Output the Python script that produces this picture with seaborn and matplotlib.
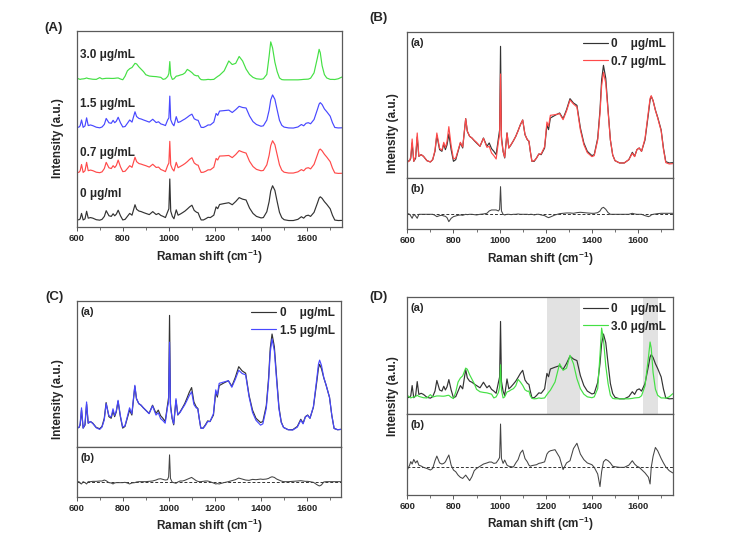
import numpy as np
import pandas as pd
import matplotlib
matplotlib.use("Agg")
import matplotlib.pyplot as plt
import seaborn as sns

# ---------------- data ----------------
wavenumber = [
    600, 610, 615, 621, 628, 636, 643, 650, 660, 670,
    685, 700, 710, 720, 728, 740, 750, 758, 765, 772,
    780, 790, 800, 810, 820, 830, 840, 853, 860, 870,
    880, 890, 900, 915, 930, 945, 955, 965, 975, 985,
    995, 1000, 1004, 1008, 1015, 1022, 1032, 1040, 1050, 1060,
    1070, 1080, 1090, 1100, 1110, 1120, 1127, 1133, 1140, 1150,
    1160, 1170, 1180, 1195, 1205, 1212, 1220, 1240, 1260, 1275,
    1290, 1305, 1320, 1335, 1350, 1365, 1380, 1400, 1410, 1425,
    1435, 1442, 1450, 1460, 1470, 1480, 1490, 1500, 1520, 1540,
    1560, 1575, 1585, 1595, 1605, 1615, 1630, 1645, 1652, 1657,
    1665, 1675, 1685, 1700, 1710, 1720, 1735, 1750]

# control spectrum, 0 ug/mL
spec_0 = [
    0.06, 0.08, 0.15, 0.61, 0.06, 0.15, 0.79, 0.21, 0.26, 0.21,
    0.08, 0.04, 0.11, 0.36, 0.84, 0.41, 0.36, 0.58, 0.41, 0.55,
    0.88, 0.41, 0.06, 0.11, 0.36, 0.61, 0.46, 1.34, 0.96, 0.81,
    0.76, 0.68, 0.61, 0.51, 0.76, 0.51, 0.61, 0.44, 0.36, 0.26,
    0.76, 1.00, 3.51, 0.80, 0.36, 0.16, 0.91, 0.46, 0.56, 0.68,
    0.81, 0.98, 1.16, 1.30, 0.86, 0.71, 0.66, 0.36, 0.06, 0.06,
    0.16, 0.28, 0.26, 0.46, 1.16, 1.01, 1.36, 1.44, 1.51, 1.34,
    1.61, 1.94, 1.81, 1.74, 1.06, 0.61, 0.36, 0.23, 0.26, 0.75,
    1.60, 2.50, 2.94, 2.55, 1.60, 0.70, 0.25, 0.08, 0.01, 0.01,
    0.11, 0.33, 0.21, 0.41, 0.46, 0.36, 0.70, 1.50, 1.90, 2.01,
    1.88, 1.60, 1.38, 1.00, 0.45, 0.05, 0.01, 0.02]

# difference spectra (control - treated) read from the (b) panels
diff_07 = [
    0.03, 0.00, -0.05, -0.12, 0.00, -0.05, -0.12, 0.00, 0.00, 0.00,
    0.00, 0.00, 0.00, -0.03, -0.07, -0.04, -0.03, -0.05, -0.06, -0.10,
    -0.22, -0.12, -0.07, -0.05, -0.03, -0.02, -0.03, 0.00, -0.01, 0.00,
    0.00, -0.01, -0.02, 0.00, 0.01, 0.03, 0.10, 0.13, 0.13, 0.13,
    0.10, 0.15, 0.83, 0.10, 0.00, -0.02, 0.00, 0.00, -0.01, 0.00,
    0.00, 0.01, 0.00, 0.00, 0.00, 0.00, -0.01, 0.00, 0.00, -0.02,
    0.00, 0.00, -0.02, -0.04, -0.08, -0.10, -0.08, -0.02, 0.02, 0.03,
    0.04, 0.04, 0.03, 0.05, 0.06, 0.05, 0.04, 0.03, 0.03, 0.05,
    0.10, 0.18, 0.21, 0.15, 0.05, 0.00, 0.00, 0.00, 0.00, 0.00,
    0.00, 0.03, 0.01, 0.00, 0.00, 0.00, -0.04, -0.07, -0.05, -0.02,
    0.00, 0.01, 0.02, 0.03, 0.03, 0.03, 0.03, 0.03]

diff_15 = [
    0.00, 0.00, -0.05, -0.07, 0.00, -0.03, -0.07, 0.00, 0.00, 0.01,
    0.01, 0.02, 0.02, 0.05, 0.03, -0.03, -0.04, -0.07, -0.04, -0.03,
    -0.03, -0.03, -0.03, -0.02, -0.04, -0.07, -0.04, -0.03, -0.01, 0.00,
    0.00, 0.00, 0.00, 0.01, 0.02, 0.05, 0.08, 0.09, 0.07, 0.05,
    0.06, 0.15, 0.82, 0.10, -0.01, -0.03, -0.05, -0.01, 0.02, 0.02,
    0.04, 0.07, 0.10, 0.13, 0.08, 0.03, 0.01, 0.00, 0.00, 0.01,
    0.02, 0.02, 0.00, -0.04, -0.07, -0.06, -0.07, -0.03, 0.00, 0.03,
    0.06, 0.11, 0.08, 0.05, 0.04, 0.07, 0.06, 0.08, 0.07, 0.08,
    0.10, 0.13, 0.15, 0.13, 0.08, 0.05, 0.02, 0.00, 0.00, 0.01,
    0.02, 0.03, 0.02, 0.01, 0.01, 0.00, -0.02, -0.09, -0.12, -0.13,
    -0.10, -0.01, 0.00, 0.00, 0.00, 0.00, 0.00, 0.00]

# 3.0 ug/mL spectrum
spec_30 = [
    0.17, 0.08, 0.05, 0.08, 0.09, 0.12, 0.17, 0.12, 0.09, 0.06,
    0.05, 0.20, 0.09, 0.12, 0.14, 0.14, 0.13, 0.13, 0.14, 0.16,
    0.17, 0.08, 0.02, 0.32, 0.77, 0.95, 1.05, 1.40, 1.35, 1.10,
    0.90, 0.70, 0.44, 0.33, 0.30, 0.28, 0.25, 0.22, 0.05, 0.10,
    0.30, 0.55, 1.55, 0.40, 0.05, 0.10, 0.32, 0.35, 0.42, 0.47,
    0.60, 0.89, 0.77, 0.62, 0.42, 0.35, 0.36, 0.15, 0.03, 0.01,
    0.02, 0.05, 0.03, 0.05, 0.20, 0.30, 0.40, 0.77, 1.60, 1.30,
    1.40, 1.98, 1.60, 0.92, 0.47, 0.22, 0.10, 0.06, 0.10, 0.47,
    2.00, 3.21, 2.70, 1.50, 0.70, 0.17, 0.03, 0.01, 0.01, 0.01,
    0.01, 0.03, 0.05, 0.06, 0.07, 0.15, 0.60, 1.90, 2.58, 2.30,
    1.20, 0.45, 0.17, 0.05, 0.05, 0.04, 0.10, 0.24]

diff_30 = [
    -0.12, 0.10, 0.26, 0.15, 0.36, 0.20, 0.30, 0.10, 0.06, 0.00,
    -0.05, -0.12, -0.05, 0.30, 0.51, 0.20, 0.15, 0.18, 0.25, 0.40,
    0.56, 0.10, -0.12, -0.20, -0.35, -0.45, -0.50, -0.35, -0.45, -0.60,
    -0.42, -0.15, -0.05, 0.05, 0.15, 0.20, 0.24, 0.24, 0.18, 0.20,
    0.35, 0.45, 1.96, 0.40, 0.18, 0.33, 0.10, 0.05, 0.03, 0.02,
    0.20, 0.35, 0.65, 0.78, 0.40, 0.25, 0.10, 0.05, 0.08, 0.10,
    0.12, 0.18, 0.20, 0.25, 0.60, 0.70, 0.75, 0.80, 0.45, -0.10,
    0.20, 0.30, 0.85, 1.09, 0.60, 0.35, 0.20, 0.12, 0.00, -0.30,
    -0.87, -0.20, 0.25, 0.36, 0.30, 0.20, 0.05, 0.03, 0.00, 0.00,
    0.10, 0.30, 0.15, 0.05, 0.00, -0.10, -0.25, -0.45, -0.75, 0.00,
    0.50, 0.90, 0.75, 0.40, 0.20, 0.02, -0.15, -0.25]

conc_labels = ["0 μg/ml", "0.7 μg/mL", "1.5 μg/mL", "3.0 μg/mL"]
legend_0 = "0    μg/mL"
stack_offsets = [0.0, 4.0, 7.8, 11.85]
shaded_bands = [(1207, 1348), (1620, 1687)]
xticks_major = [600, 800, 1000, 1200, 1400, 1600]
xticks_minor = [700, 900, 1100, 1300, 1500, 1700]

# derived treated spectra
spec_0a = np.array(spec_0)
spec_07 = spec_0a - np.array(diff_07)
spec_15 = spec_0a - np.array(diff_15)

# ---------------- style ----------------
sns.set_style("ticks")
plt.rcParams["font.family"] = ["Liberation Sans", "DejaVu Sans"]
plt.rcParams["font.weight"] = "bold"
plt.rcParams["axes.labelweight"] = "bold"
plt.rcParams["mathtext.fontset"] = "custom"
plt.rcParams["mathtext.rm"] = "Liberation Sans:bold"
plt.rcParams["mathtext.default"] = "rm"

C_CTRL = "#333333"
C_RED = "#ff4a4a"
C_BLUE = "#4848ff"
C_GREEN = "#44e044"
C_DIFF = "#444444"
SPINE = "#5a5a5a"
FS = 8.5

W, H = 748, 550
fig = plt.figure(figsize=(W / 100, H / 100), dpi=100)


def add_axes(l, r, t, b):
    return fig.add_axes([l / W, 1 - b / H, (r - l) / W, (b - t) / H])


def line(ax, y, color, lw=0.85, ls="-", label=None, z=2):
    df = pd.DataFrame({"x": wavenumber, "y": np.asarray(y, dtype=float)})
    sns.lineplot(data=df, x="x", y="y", ax=ax, color=color, linewidth=lw,
                 linestyle=ls, estimator=None, sort=False, label=label,
                 legend=False, zorder=z)


def style_ax(ax, xlabels=True):
    ax.set_xlim(600, 1750)
    ax.set_xticks(xticks_major)
    ax.set_xticks(xticks_minor, minor=True)
    ax.set_yticks([])
    ax.set_xlabel("")
    ax.set_ylabel("")
    for s in ax.spines.values():
        s.set_color(SPINE)
        s.set_linewidth(0.9)
    if xlabels:
        ax.tick_params(axis="x", which="major", direction="out", length=3,
                       width=0.7, color=SPINE, labelsize=6.8, pad=2)
        ax.tick_params(axis="x", which="minor", direction="out", length=1.8,
                       width=0.6, color=SPINE)
        for lbl in ax.get_xticklabels():
            lbl.set_fontweight("bold")
    else:
        ax.tick_params(axis="x", which="both", bottom=False, labelbottom=False)


def xlabel(ax):
    ax.set_xlabel("Raman shift (cm$^{-1}$)", fontsize=FS, fontweight="bold",
                  labelpad=3)


def sublabel(ax, text):
    ax.annotate(text, xy=(0, 1), xycoords="axes fraction", xytext=(3.5, -11),
                textcoords="offset pixels", ha="left", va="center",
                fontsize=8, fontweight="bold")


def legend(ax, labels):
    handles = ax.get_lines()[:2]
    ax.legend(handles, labels, loc="upper right", frameon=False,
              handlelength=2.1, handletextpad=0.3,
              borderaxespad=0.15, labelspacing=0.45,
              prop={"weight": "bold", "size": FS})


def ylab(x, y):
    fig.text(x / W, 1 - y / H, "Intensity (a.u.)", rotation=90, ha="center",
             va="center", fontsize=FS, fontweight="bold")


def panel(x, y, text):
    fig.text(x / W, 1 - y / H, text, ha="center", va="center", fontsize=9.5,
             fontweight="bold")


# ---------------- Panel A ----------------
axA = add_axes(76.7, 341.7, 30.7, 227.3)
for spec, off, col in zip([spec_0a, spec_07, spec_15, np.array(spec_30)],
                          stack_offsets, [C_CTRL, C_RED, C_BLUE, C_GREEN]):
    line(axA, spec + off, col)
axA.set_ylim(-0.56, 16.0)
style_ax(axA)
xlabel(axA)
for lab, fy in zip(conc_labels, [0.169, 0.379, 0.627, 0.876]):
    axA.text(0.012, fy, lab, transform=axA.transAxes, ha="left", va="center",
             fontsize=FS, fontweight="bold")
ylab(58, 138)
panel(54, 28, "(A)")

# ---------------- Panel B ----------------
axBa = add_axes(407.3, 672.7, 31.7, 178.3)
axBb = add_axes(407.3, 672.7, 178.3, 229.3)
line(axBa, spec_0a, C_CTRL, label=legend_0)
line(axBa, spec_07, C_RED, label="0.7 μg/mL")
axBa.set_ylim(-0.45, 3.95)
style_ax(axBa, xlabels=False)
legend(axBa, [legend_0, "0.7 μg/mL"])
sublabel(axBa, "(a)")
axBb.axhline(0, color="#333333", lw=0.7, ls=(0, (3, 2)), zorder=1)
line(axBb, diff_07, C_DIFF, lw=0.75)
axBb.set_ylim(-0.45, 1.08)
style_ax(axBb)
xlabel(axBb)
sublabel(axBb, "(b)")
ylab(393, 133)
panel(378, 18, "(B)")

# ---------------- Panel C ----------------
axCa = add_axes(76.7, 341.0, 300.7, 446.7)
axCb = add_axes(76.7, 341.0, 446.7, 496.7)
line(axCa, spec_0a, C_CTRL, label=legend_0)
line(axCa, spec_15, C_BLUE, label="1.5 μg/mL")
axCa.set_ylim(-0.51, 3.96)
style_ax(axCa, xlabels=False)
legend(axCa, [legend_0, "1.5 μg/mL"])
sublabel(axCa, "(a)")
axCb.axhline(0, color="#333333", lw=0.7, ls=(0, (3, 2)), zorder=1)
line(axCb, diff_15, C_DIFF, lw=0.75)
axCb.set_ylim(-0.46, 1.07)
style_ax(axCb)
xlabel(axCb)
sublabel(axCb, "(b)")
ylab(58, 399)
panel(54, 297, "(C)")

# ---------------- Panel D ----------------
axDa = add_axes(407.3, 672.7, 296.7, 414.3)
axDb = add_axes(407.3, 672.7, 414.3, 495.0)
for lo, hi in shaded_bands:
    axDa.axvspan(lo, hi, color="#e2e2e2", lw=0, zorder=0)
line(axDa, spec_0a, C_CTRL, label=legend_0)
line(axDa, spec_30, C_GREEN, label="3.0 μg/mL")
axDa.set_ylim(-0.69, 4.63)
style_ax(axDa, xlabels=False)
legend(axDa, [legend_0, "3.0 μg/mL"])
sublabel(axDa, "(a)")
axDb.axhline(0, color="#333333", lw=0.7, ls=(0, (3, 2)), zorder=1)
line(axDb, diff_30, C_DIFF, lw=0.75)
axDb.set_ylim(-1.25, 2.40)
style_ax(axDb)
xlabel(axDb)
sublabel(axDb, "(b)")
ylab(393, 396)
panel(378, 297, "(D)")

fig.savefig("out.png", dpi=100)
